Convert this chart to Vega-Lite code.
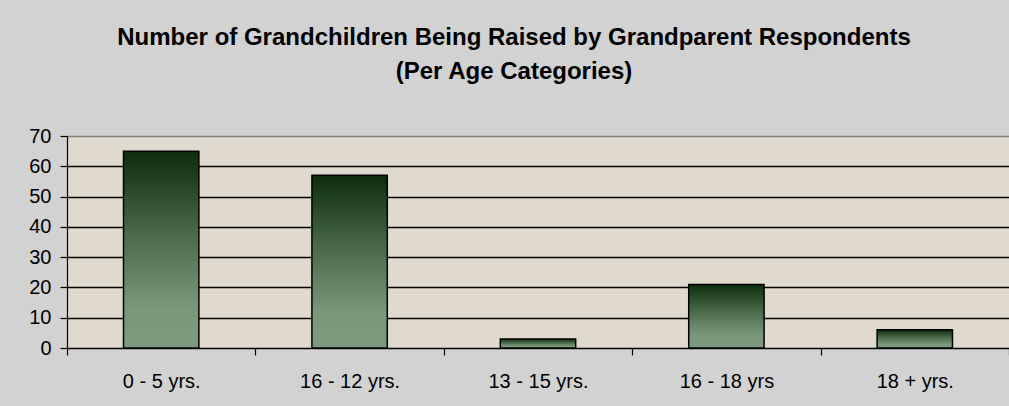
{
  "$schema": "https://vega.github.io/schema/vega-lite/v6.json",
  "width": 942,
  "height": 212,
  "autosize": {"type": "none"},
  "padding": {"left": 67, "top": 136, "right": 0, "bottom": 58},
  "background": "#d2d2d2",
  "title": {
    "text": ["Number of Grandchildren Being Raised by Grandparent Respondents", "(Per Age Categories)"],
    "font": "Liberation Sans",
    "fontSize": 24,
    "fontWeight": "bold",
    "color": "#000000",
    "anchor": "middle",
    "frame": "group",
    "dx": -24,
    "offset": 42,
    "lineHeight": 34
  },
  "config": {
    "font": "Liberation Sans",
    "view": {"fill": "#e0d9cd", "stroke": "#808080", "strokeWidth": 1}
  },
  "data": {
    "values": [
      {"age": "0 - 5 yrs.", "count": 65},
      {"age": "16 - 12 yrs.", "count": 57},
      {"age": "13 - 15 yrs.", "count": 3},
      {"age": "16 - 18 yrs", "count": 21},
      {"age": "18 + yrs.", "count": 6}
    ]
  },
  "mark": {
    "type": "bar",
    "width": {"band": 0.4},
    "stroke": "#000000",
    "strokeWidth": 1.5,
    "fill": {
      "gradient": "linear",
      "x1": 0, "y1": 0, "x2": 0, "y2": 1,
      "stops": [
        {"offset": 0, "color": "#0b2d0b"},
        {"offset": 0.4, "color": "#476847"},
        {"offset": 0.8, "color": "#7a987a"},
        {"offset": 1, "color": "#7c9b7e"}
      ]
    }
  },
  "encoding": {
    "x": {
      "field": "age",
      "type": "nominal",
      "sort": null,
      "scale": {"paddingInner": 0, "paddingOuter": 0},
      "axis": {
        "title": null,
        "labelAngle": 0,
        "labelFontSize": 20,
        "labelColor": "#000000",
        "labelPadding": 16,
        "tickBand": "extent",
        "tickSize": 7,
        "tickColor": "#000000",
        "tickWidth": 1.2,
        "domainColor": "#000000",
        "domainWidth": 1.2,
        "grid": false
      }
    },
    "y": {
      "field": "count",
      "type": "quantitative",
      "scale": {"domain": [0, 70], "nice": false},
      "axis": {
        "title": null,
        "values": [0, 10, 20, 30, 40, 50, 60, 70],
        "labelFontSize": 20,
        "labelColor": "#000000",
        "labelPadding": 9,
        "tickSize": 7,
        "tickColor": "#000000",
        "tickWidth": 1.2,
        "domainColor": "#000000",
        "domainWidth": 1.2,
        "grid": true,
        "gridColor": {"condition": {"test": "datum.value === 70", "value": "#808080"}, "value": "#000000"},
        "gridWidth": 1.5,
        "gridOpacity": 1
      }
    }
  }
}
